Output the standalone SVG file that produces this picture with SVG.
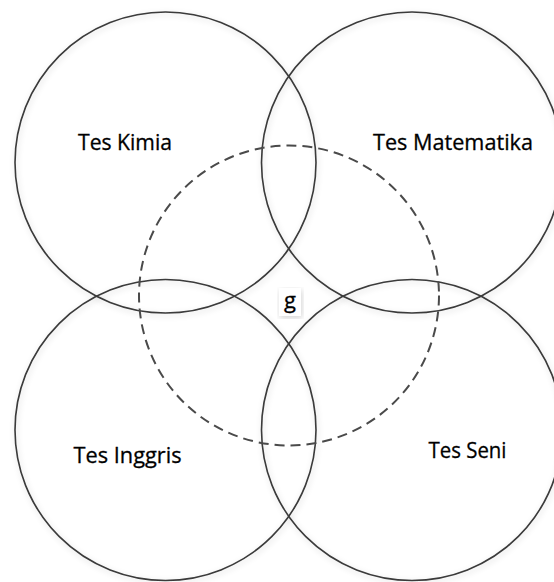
<svg xmlns="http://www.w3.org/2000/svg" width="554" height="582" viewBox="0 0 554 582">
<defs>
<filter id="sh" x="-10%" y="-10%" width="120%" height="120%">
<feGaussianBlur in="SourceAlpha" stdDeviation="3"/>
<feOffset dx="1" dy="2" result="b"/>
<feComponentTransfer><feFuncA type="linear" slope="0.18"/></feComponentTransfer>
<feMerge><feMergeNode/><feMergeNode in="SourceGraphic"/></feMerge>
</filter>
</defs>
<style>
.c{fill:none;stroke:#3a3a3a;stroke-width:1.6}
.d{fill:none;stroke:#4a4a4a;stroke-width:2;stroke-dasharray:10 6}
.t{font-family:"Open Sans","Noto Sans",sans-serif;font-size:22px;fill:#000;stroke:#000;stroke-width:0.3}
</style>
<rect width="554" height="582" fill="#fff"/>
<g id="tes-kimia">
<circle class="c" cx="165.5" cy="162.5" r="150.5" filter="url(#sh)"/>
<text class="t" x="78" y="150" textLength="94" lengthAdjust="spacingAndGlyphs">Tes Kimia</text>
</g>
<g id="tes-matematika">
<circle class="c" cx="412" cy="162.5" r="150.5" filter="url(#sh)"/>
<text class="t" x="373" y="150" textLength="160" lengthAdjust="spacingAndGlyphs">Tes Matematika</text>
</g>
<g id="tes-inggris">
<circle class="c" cx="165.5" cy="430" r="150.5" filter="url(#sh)"/>
<text class="t" x="73.5" y="463" textLength="108" lengthAdjust="spacingAndGlyphs">Tes Inggris</text>
</g>
<g id="tes-seni">
<circle class="c" cx="412" cy="430" r="150.5" filter="url(#sh)"/>
<text class="t" x="428.5" y="458" textLength="78" lengthAdjust="spacingAndGlyphs">Tes Seni</text>
</g>
<g id="g-set">
<circle class="d" cx="289" cy="295.5" r="150"/>
</g>
<g id="g-label">
<rect x="279" y="288" width="22" height="28" fill="#fff" filter="url(#sh)"/>
<text class="t" x="290" y="308" text-anchor="middle">g</text>
</g>
<g id="connectors"></g>
</svg>
